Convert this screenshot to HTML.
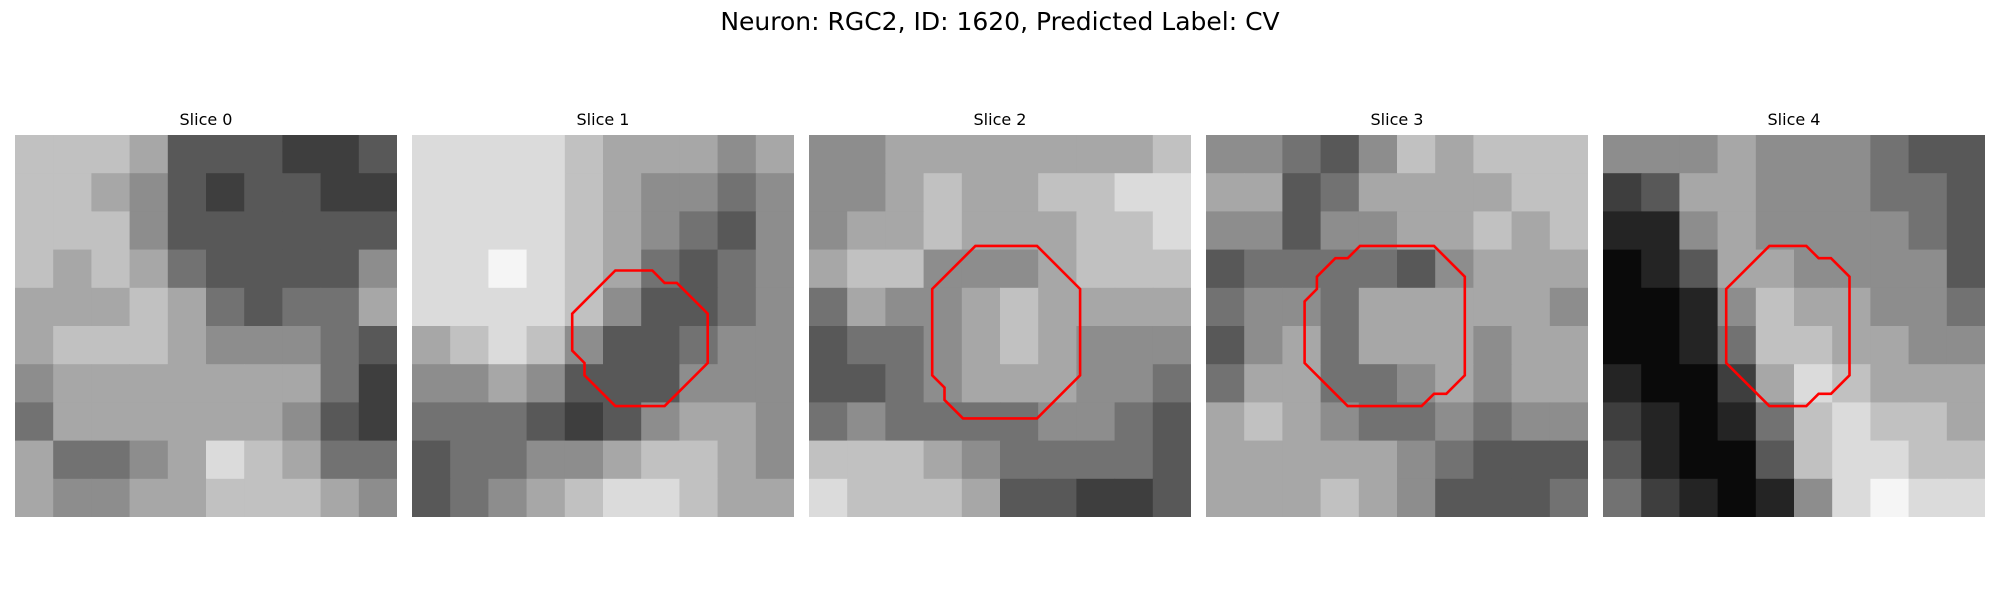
<!DOCTYPE html>
<html><head><meta charset="utf-8"><style>
html,body{margin:0;padding:0;background:#fff;}
body{width:2000px;height:600px;position:relative;overflow:hidden;font-family:"DejaVu Sans","Liberation Sans",sans-serif;}
#title{position:absolute;left:0;top:7px;width:2000px;text-align:center;font-size:25px;color:#000;}
.st{position:absolute;top:110px;width:382px;text-align:center;font-size:16px;color:#000;}
svg{position:absolute;top:135px;}
</style></head><body>
<div id="title">Neuron: RGC2, ID: 1620, Predicted Label: CV</div>
<div id="root"></div>
<script>
const sliceTitles=["Slice 0","Slice 1","Slice 2","Slice 3","Slice 4"];
const slice0Grid=[[7,7,7,6,3,3,3,2,2,3],[7,7,6,5,3,2,3,3,2,2],[7,7,7,5,3,3,3,3,3,3],[7,6,7,6,4,3,3,3,3,5],[6,6,6,7,6,4,3,4,4,6],[6,7,7,7,6,5,5,5,4,3],[5,6,6,6,6,6,6,6,4,2],[4,6,6,6,6,6,6,5,3,2],[6,4,4,5,6,8,7,6,4,4],[6,5,5,6,6,7,7,7,6,5]];
const slice1Grid=[[8,8,8,8,7,6,6,6,5,6],[8,8,8,8,7,6,5,5,4,5],[8,8,8,8,7,6,5,4,3,5],[8,8,9,8,7,6,4,3,4,5],[8,8,8,8,7,5,3,3,4,5],[6,7,8,7,5,3,3,4,5,5],[5,5,6,5,3,3,3,5,5,5],[4,4,4,3,2,3,5,6,6,5],[3,4,4,5,5,6,7,7,6,5],[3,4,5,6,7,8,8,7,6,6]];
const slice2Grid=[[5,5,6,6,6,6,6,6,6,7],[5,5,6,7,6,6,7,7,8,8],[5,6,6,7,6,6,6,7,7,8],[6,7,7,5,5,5,6,7,7,7],[4,6,5,5,6,7,6,6,6,6],[3,4,4,5,6,7,6,5,5,5],[3,3,4,5,6,6,6,5,5,4],[4,5,4,4,4,4,5,5,4,3],[7,7,7,6,5,4,4,4,4,3],[8,7,7,7,6,3,3,2,2,3]];
const slice3Grid=[[5,5,4,3,5,7,6,7,7,7],[6,6,3,4,6,6,6,6,7,7],[5,5,3,5,5,6,6,7,6,7],[3,4,4,4,4,3,5,6,6,6],[4,5,5,4,6,6,6,6,6,5],[3,5,6,4,6,6,6,5,6,6],[4,6,6,4,4,5,6,5,6,6],[6,7,6,5,4,4,5,4,5,5],[6,6,6,6,6,5,4,3,3,3],[6,6,6,7,6,5,3,3,3,4]];
const slice4Grid=[[5,5,5,6,5,5,5,4,3,3],[2,3,6,6,5,5,5,4,4,3],[1,1,5,6,5,5,5,5,4,3],[0,1,3,6,6,5,5,5,5,3],[0,0,1,5,7,6,6,5,5,4],[0,0,1,4,7,7,6,6,5,5],[1,0,0,2,6,8,7,6,6,6],[2,1,0,1,4,7,8,7,7,6],[3,1,0,0,3,7,8,8,7,7],[4,2,1,0,1,5,8,9,8,8]];
const contour1=[[16.5,11],[19.5,11],[20.5,12],[21.5,12],[24,14.5],[24,18.5],[20.5,22],[16.5,22],[14,19.5],[14,18.5],[13,17.5],[13,14.5]];
const contour2=[[13.5,9],[18.5,9],[22,12.5],[22,19.5],[18.5,23],[12.5,23],[11,21.5],[11,20.5],[10,19.5],[10,12.5]];
const contour3=[[12.5,9],[18.5,9],[21,11.5],[21,19.5],[19.5,21],[18.5,21],[17.5,22],[11.5,22],[8,18.5],[8,13.5],[9,12.5],[9,11.5],[10.5,10],[11.5,10]];
const contour4=[[13.5,9],[16.5,9],[17.5,10],[18.5,10],[20,11.5],[20,19.5],[18.5,21],[17.5,21],[16.5,22],[13.5,22],[10,18.5],[10,12.5]];
const grids=[slice0Grid,slice1Grid,slice2Grid,slice3Grid,slice4Grid];
const contours=[null,contour1,contour2,contour3,contour4];
const NS="http://www.w3.org/2000/svg";
const P=382, X0=15, STEP=397, CELLS=31;
const root=document.getElementById('root');
function sx(v){return v/CELLS*P;}
grids.forEach((g,i)=>{
  const left=X0+i*STEP;
  const t=document.createElement('div');
  t.className='st';t.style.left=left+'px';t.textContent=sliceTitles[i];
  
  
  root.appendChild(t);
  const svg=document.createElementNS(NS,'svg');
  svg.setAttribute('width',P);svg.setAttribute('height',P);
  svg.style.left=left+'px';
  
  
  const n=g.length, c=P/n;
  g.forEach((row,r)=>row.forEach((v,k)=>{
    const rc=document.createElementNS(NS,'rect');
    rc.setAttribute('x',(k*c).toFixed(2));rc.setAttribute('y',(r*c).toFixed(2));
    rc.setAttribute('width',(c+0.6).toFixed(2));rc.setAttribute('height',(c+0.6).toFixed(2));
    const gv=Math.round(v/9*235+10);
    rc.setAttribute('fill','rgb('+gv+','+gv+','+gv+')');
    
    
    svg.appendChild(rc);
  }));
  if(contours[i]){
    const pg=document.createElementNS(NS,'polygon');
    pg.setAttribute('points',contours[i].map(p=>sx(p[0]).toFixed(1)+','+sx(p[1]).toFixed(1)).join(' '));
    pg.setAttribute('fill','none');pg.setAttribute('stroke','#ff0000');pg.setAttribute('stroke-width','2.6');
    
    
    svg.appendChild(pg);
  }
  root.appendChild(svg);
});
</script>
</body></html>
